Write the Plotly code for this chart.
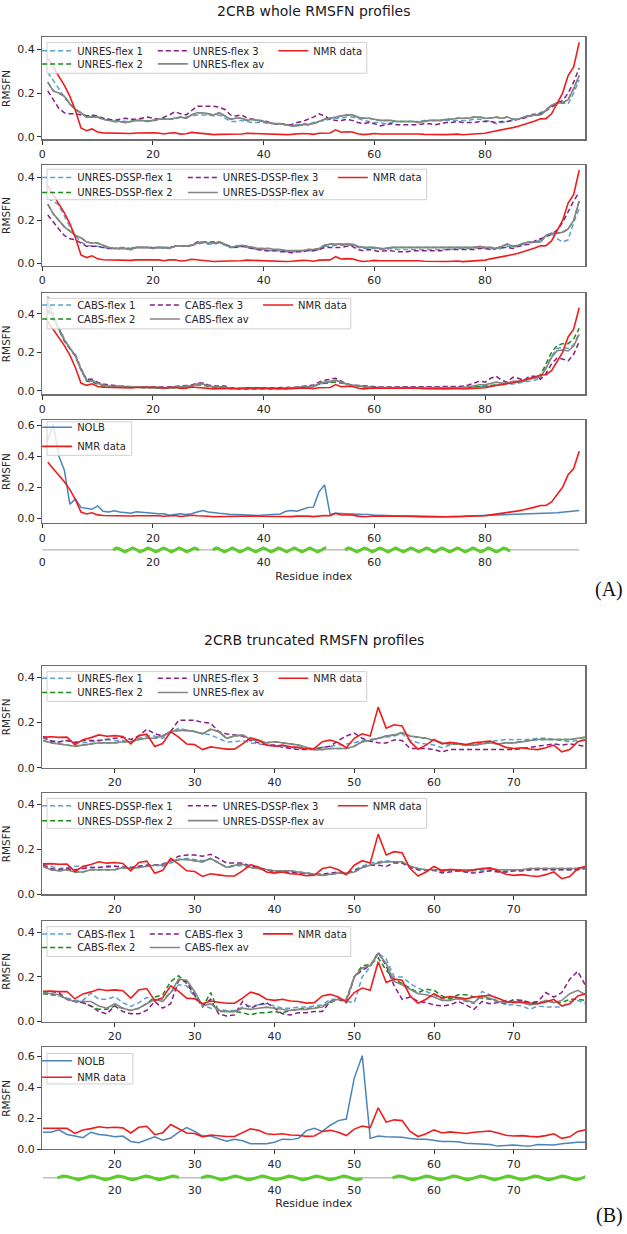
import numpy as np
import plotly.graph_objects as go

W, H = 627, 1234


def fx(p):
    return p / W


def fy(p):
    return 1 - p / H


# ---------------- DATA ----------------
residues_A = list(range(1, 98))
residues_B = list(range(11, 80))

nmr_A = [
    0.36, 0.32, 0.28, 0.235, 0.185, 0.12, 0.04, 0.028, 0.036, 0.022,
    0.018, 0.017, 0.017, 0.017, 0.013, 0.015, 0.017, 0.018, 0.017, 0.018,
    0.017, 0.013, 0.017, 0.018, 0.012, 0.014, 0.02, 0.017, 0.013, 0.013,
    0.01, 0.011, 0.011, 0.01, 0.01, 0.013, 0.016, 0.015, 0.013, 0.012,
    0.013, 0.012, 0.011, 0.01, 0.011, 0.014, 0.015, 0.014, 0.011, 0.016,
    0.018, 0.017, 0.032, 0.021, 0.023, 0.022, 0.014, 0.01, 0.012, 0.015,
    0.013, 0.014, 0.013, 0.013, 0.013, 0.014, 0.014, 0.013, 0.011, 0.01,
    0.011, 0.01, 0.01, 0.011, 0.012, 0.009, 0.01, 0.014, 0.014, 0.016,
    0.022, 0.027, 0.031, 0.034, 0.042, 0.048, 0.055, 0.062, 0.072, 0.082,
    0.083, 0.105, 0.15, 0.2, 0.28, 0.32, 0.432]

unres_flex1_A = [
    0.295, 0.26, 0.22, 0.18, 0.15, 0.125, 0.11, 0.095, 0.095, 0.09,
    0.085, 0.08, 0.075, 0.075, 0.07, 0.07, 0.075, 0.075, 0.075, 0.07,
    0.08, 0.085, 0.08, 0.085, 0.09, 0.09, 0.095, 0.1, 0.1, 0.1,
    0.095, 0.1, 0.085, 0.07, 0.07, 0.075, 0.07, 0.065, 0.065, 0.065,
    0.06, 0.06, 0.06, 0.055, 0.055, 0.055, 0.06, 0.06, 0.065, 0.07,
    0.075, 0.08, 0.085, 0.085, 0.09, 0.09, 0.085, 0.075, 0.07, 0.065,
    0.065, 0.06, 0.065, 0.07, 0.07, 0.07, 0.07, 0.07, 0.075, 0.075,
    0.075, 0.075, 0.075, 0.075, 0.075, 0.075, 0.075, 0.08, 0.08, 0.075,
    0.07, 0.06, 0.065, 0.07, 0.075, 0.08, 0.09, 0.1, 0.105, 0.11,
    0.125, 0.14, 0.15, 0.155, 0.15, 0.2, 0.26]
unres_flex2_A = [
    0.25, 0.21, 0.2, 0.185, 0.15, 0.125, 0.11, 0.09, 0.09, 0.09,
    0.08, 0.075, 0.07, 0.07, 0.065, 0.07, 0.075, 0.075, 0.07, 0.075,
    0.08, 0.08, 0.08, 0.085, 0.09, 0.085, 0.1, 0.11, 0.11, 0.105,
    0.1, 0.11, 0.095, 0.08, 0.085, 0.085, 0.075, 0.08, 0.075, 0.07,
    0.065, 0.06, 0.06, 0.055, 0.05, 0.05, 0.055, 0.055, 0.06, 0.07,
    0.08, 0.085, 0.09, 0.095, 0.1, 0.1, 0.09, 0.085, 0.085, 0.08,
    0.075, 0.075, 0.075, 0.07, 0.07, 0.07, 0.07, 0.065, 0.07, 0.075,
    0.075, 0.075, 0.08, 0.08, 0.085, 0.085, 0.085, 0.09, 0.09, 0.085,
    0.085, 0.09, 0.085, 0.09, 0.08, 0.08, 0.09, 0.095, 0.1, 0.1,
    0.12, 0.145, 0.155, 0.155, 0.17, 0.22, 0.28]
unres_flex3_A = [
    0.21, 0.17, 0.13, 0.11, 0.105, 0.105, 0.1, 0.095, 0.1, 0.095,
    0.085, 0.08, 0.075, 0.08, 0.085, 0.08, 0.08, 0.085, 0.09, 0.085,
    0.08, 0.09, 0.1, 0.115, 0.105, 0.1, 0.12, 0.14, 0.14, 0.14,
    0.14, 0.135, 0.125, 0.1, 0.095, 0.1, 0.085, 0.08, 0.075, 0.075,
    0.065, 0.06, 0.06, 0.055, 0.055, 0.065, 0.07, 0.08, 0.09, 0.105,
    0.095, 0.08, 0.075, 0.075, 0.08, 0.075, 0.065, 0.06, 0.065, 0.06,
    0.05, 0.055, 0.06, 0.055, 0.055, 0.055, 0.055, 0.055, 0.06, 0.06,
    0.055, 0.06, 0.065, 0.065, 0.07, 0.065, 0.065, 0.065, 0.07, 0.07,
    0.07, 0.065, 0.07, 0.07, 0.075, 0.08, 0.085, 0.095, 0.1, 0.105,
    0.12, 0.135, 0.155, 0.165, 0.2, 0.25, 0.315]
unres_av_A = [
    0.25, 0.21, 0.2, 0.185, 0.15, 0.125, 0.11, 0.09, 0.09, 0.09,
    0.08, 0.075, 0.07, 0.07, 0.065, 0.07, 0.075, 0.075, 0.07, 0.075,
    0.08, 0.08, 0.08, 0.085, 0.09, 0.085, 0.1, 0.11, 0.11, 0.105,
    0.1, 0.11, 0.095, 0.08, 0.085, 0.085, 0.075, 0.08, 0.075, 0.07,
    0.065, 0.06, 0.06, 0.055, 0.05, 0.05, 0.055, 0.055, 0.06, 0.07,
    0.08, 0.085, 0.09, 0.095, 0.1, 0.1, 0.09, 0.085, 0.085, 0.08,
    0.075, 0.075, 0.075, 0.07, 0.07, 0.07, 0.07, 0.065, 0.07, 0.075,
    0.075, 0.075, 0.08, 0.08, 0.085, 0.085, 0.085, 0.09, 0.09, 0.085,
    0.085, 0.09, 0.085, 0.09, 0.08, 0.08, 0.09, 0.095, 0.1, 0.1,
    0.12, 0.145, 0.155, 0.155, 0.17, 0.22, 0.28]

dssp_flex1_A = [
    0.3, 0.29, 0.27, 0.22, 0.17, 0.13, 0.1, 0.085, 0.08, 0.08,
    0.075, 0.07, 0.07, 0.075, 0.075, 0.07, 0.075, 0.075, 0.075, 0.075,
    0.075, 0.07, 0.075, 0.08, 0.08, 0.08, 0.085, 0.09, 0.095, 0.09,
    0.09, 0.095, 0.085, 0.075, 0.075, 0.08, 0.075, 0.07, 0.065, 0.065,
    0.06, 0.06, 0.06, 0.055, 0.055, 0.055, 0.06, 0.06, 0.06, 0.065,
    0.08, 0.08, 0.085, 0.085, 0.085, 0.085, 0.075, 0.07, 0.07, 0.07,
    0.065, 0.065, 0.07, 0.065, 0.065, 0.065, 0.065, 0.065, 0.065, 0.065,
    0.065, 0.065, 0.065, 0.065, 0.07, 0.07, 0.07, 0.07, 0.075, 0.07,
    0.07, 0.065, 0.07, 0.08, 0.075, 0.08, 0.09, 0.095, 0.1, 0.11,
    0.13, 0.14, 0.115, 0.1, 0.11, 0.19, 0.255]
dssp_flex2_A = [
    0.275, 0.23, 0.2, 0.17, 0.15, 0.13, 0.12, 0.1, 0.095, 0.095,
    0.085, 0.075, 0.07, 0.07, 0.07, 0.065, 0.075, 0.075, 0.075, 0.07,
    0.075, 0.075, 0.07, 0.08, 0.08, 0.08, 0.085, 0.095, 0.1, 0.095,
    0.095, 0.1, 0.09, 0.075, 0.08, 0.085, 0.08, 0.075, 0.07, 0.07,
    0.07, 0.065, 0.065, 0.06, 0.06, 0.06, 0.06, 0.065, 0.065, 0.07,
    0.085, 0.09, 0.09, 0.09, 0.09, 0.09, 0.08, 0.075, 0.075, 0.075,
    0.07, 0.07, 0.075, 0.075, 0.075, 0.075, 0.075, 0.075, 0.075, 0.075,
    0.075, 0.075, 0.075, 0.075, 0.075, 0.075, 0.075, 0.075, 0.08, 0.075,
    0.075, 0.07, 0.08, 0.09, 0.08, 0.085, 0.095, 0.1, 0.1, 0.1,
    0.13, 0.14, 0.14, 0.145, 0.16, 0.2, 0.29]
dssp_flex3_A = [
    0.225, 0.19, 0.16, 0.13, 0.115, 0.11, 0.095, 0.08, 0.08, 0.08,
    0.075, 0.07, 0.07, 0.07, 0.07, 0.07, 0.075, 0.075, 0.075, 0.075,
    0.075, 0.075, 0.075, 0.08, 0.08, 0.08, 0.085, 0.1, 0.1, 0.1,
    0.1, 0.1, 0.09, 0.08, 0.075, 0.08, 0.075, 0.07, 0.065, 0.06,
    0.06, 0.06, 0.055, 0.055, 0.05, 0.055, 0.055, 0.06, 0.06, 0.065,
    0.075, 0.075, 0.075, 0.075, 0.08, 0.08, 0.065, 0.06, 0.065, 0.06,
    0.055, 0.06, 0.06, 0.055, 0.055, 0.055, 0.06, 0.06, 0.06, 0.06,
    0.06, 0.06, 0.065, 0.065, 0.065, 0.065, 0.065, 0.065, 0.07, 0.07,
    0.065, 0.07, 0.075, 0.075, 0.07, 0.08, 0.085, 0.09, 0.105, 0.115,
    0.125, 0.135, 0.155, 0.19, 0.24, 0.29, 0.33]
dssp_av_A = [
    0.275, 0.23, 0.2, 0.17, 0.15, 0.13, 0.12, 0.1, 0.095, 0.095,
    0.085, 0.075, 0.07, 0.07, 0.07, 0.065, 0.075, 0.075, 0.075, 0.07,
    0.075, 0.075, 0.07, 0.08, 0.08, 0.08, 0.085, 0.095, 0.1, 0.095,
    0.095, 0.1, 0.09, 0.075, 0.08, 0.085, 0.08, 0.075, 0.07, 0.07,
    0.07, 0.065, 0.065, 0.06, 0.06, 0.06, 0.06, 0.065, 0.065, 0.07,
    0.085, 0.09, 0.09, 0.09, 0.09, 0.09, 0.08, 0.075, 0.075, 0.075,
    0.07, 0.07, 0.075, 0.075, 0.075, 0.075, 0.075, 0.075, 0.075, 0.075,
    0.075, 0.075, 0.075, 0.075, 0.075, 0.075, 0.075, 0.075, 0.08, 0.075,
    0.075, 0.07, 0.08, 0.09, 0.08, 0.085, 0.095, 0.1, 0.1, 0.1,
    0.13, 0.14, 0.14, 0.145, 0.16, 0.2, 0.29]

cabs_flex1_A = [
    0.49, 0.40, 0.33, 0.27, 0.22, 0.19, 0.12, 0.06, 0.055, 0.04,
    0.03, 0.025, 0.025, 0.022, 0.02, 0.02, 0.02, 0.018, 0.017, 0.016,
    0.015, 0.012, 0.015, 0.018, 0.02, 0.02, 0.025, 0.035, 0.035, 0.025,
    0.02, 0.02, 0.02, 0.012, 0.01, 0.012, 0.012, 0.012, 0.012, 0.012,
    0.012, 0.012, 0.012, 0.012, 0.015, 0.015, 0.018, 0.02, 0.02, 0.035,
    0.04, 0.045, 0.055, 0.045, 0.035, 0.03, 0.025, 0.022, 0.02, 0.018,
    0.016, 0.016, 0.016, 0.016, 0.016, 0.016, 0.018, 0.016, 0.015, 0.015,
    0.014, 0.014, 0.014, 0.015, 0.015, 0.014, 0.016, 0.02, 0.02, 0.022,
    0.025, 0.03, 0.03, 0.035, 0.035, 0.04, 0.045, 0.05, 0.055, 0.07,
    0.12, 0.18, 0.22, 0.225, 0.22, 0.24, 0.30]
cabs_flex2_A = [
    0.42, 0.37, 0.32, 0.26, 0.22, 0.18, 0.11, 0.05, 0.045, 0.035,
    0.025, 0.02, 0.02, 0.02, 0.018, 0.018, 0.018, 0.016, 0.015, 0.015,
    0.014, 0.012, 0.014, 0.016, 0.018, 0.02, 0.022, 0.03, 0.03, 0.022,
    0.018, 0.018, 0.016, 0.01, 0.008, 0.008, 0.008, 0.008, 0.008, 0.008,
    0.01, 0.01, 0.01, 0.012, 0.014, 0.016, 0.018, 0.02, 0.022, 0.035,
    0.04, 0.042, 0.045, 0.04, 0.032, 0.028, 0.024, 0.02, 0.018, 0.016,
    0.015, 0.015, 0.015, 0.015, 0.016, 0.016, 0.017, 0.016, 0.015, 0.015,
    0.015, 0.015, 0.016, 0.016, 0.016, 0.016, 0.018, 0.02, 0.022, 0.025,
    0.028, 0.03, 0.035, 0.04, 0.042, 0.045, 0.05, 0.06, 0.07, 0.08,
    0.14, 0.2, 0.235, 0.245, 0.245, 0.27, 0.325]
cabs_flex3_A = [
    0.46, 0.38, 0.32, 0.26, 0.22, 0.18, 0.11, 0.06, 0.06, 0.045,
    0.035, 0.03, 0.028, 0.025, 0.022, 0.022, 0.02, 0.02, 0.02, 0.02,
    0.02, 0.018, 0.02, 0.022, 0.025, 0.025, 0.03, 0.04, 0.04, 0.03,
    0.025, 0.025, 0.025, 0.015, 0.012, 0.012, 0.012, 0.014, 0.014, 0.015,
    0.015, 0.015, 0.015, 0.015, 0.018, 0.02, 0.022, 0.025, 0.03, 0.045,
    0.055, 0.06, 0.065, 0.05, 0.035, 0.03, 0.028, 0.025, 0.022, 0.02,
    0.02, 0.02, 0.02, 0.02, 0.02, 0.02, 0.022, 0.02, 0.02, 0.02,
    0.02, 0.02, 0.022, 0.022, 0.022, 0.025, 0.03, 0.04, 0.05, 0.045,
    0.065, 0.075, 0.055, 0.045, 0.07, 0.065, 0.055, 0.075, 0.075, 0.06,
    0.09, 0.14, 0.17, 0.165, 0.155, 0.19, 0.255]
cabs_av_A = [
    0.45, 0.38, 0.32, 0.265, 0.22, 0.18, 0.11, 0.055, 0.05, 0.04,
    0.03, 0.025, 0.024, 0.022, 0.02, 0.02, 0.02, 0.018, 0.017, 0.017,
    0.016, 0.014, 0.016, 0.019, 0.021, 0.022, 0.026, 0.035, 0.035, 0.026,
    0.021, 0.021, 0.02, 0.012, 0.01, 0.011, 0.011, 0.011, 0.011, 0.012,
    0.012, 0.012, 0.012, 0.013, 0.016, 0.017, 0.019, 0.022, 0.024, 0.038,
    0.045, 0.049, 0.055, 0.045, 0.034, 0.029, 0.026, 0.022, 0.02, 0.018,
    0.017, 0.017, 0.017, 0.017, 0.017, 0.017, 0.019, 0.017, 0.017, 0.017,
    0.016, 0.016, 0.017, 0.018, 0.018, 0.018, 0.021, 0.027, 0.031, 0.031,
    0.039, 0.045, 0.04, 0.04, 0.049, 0.05, 0.05, 0.062, 0.067, 0.07,
    0.117, 0.173, 0.208, 0.212, 0.207, 0.233, 0.293]

nolb_A = [
    0.5, 0.605, 0.4, 0.31, 0.09, 0.125, 0.07, 0.062, 0.058, 0.08,
    0.045, 0.04, 0.048, 0.04, 0.035, 0.032, 0.042, 0.038, 0.035, 0.032,
    0.03, 0.03, 0.02, 0.025, 0.03, 0.025, 0.03, 0.04, 0.05, 0.04,
    0.035, 0.032, 0.03, 0.025, 0.025, 0.022, 0.02, 0.02, 0.018, 0.02,
    0.025, 0.025, 0.028, 0.045, 0.05, 0.045, 0.06, 0.07, 0.072, 0.17,
    0.215, 0.025, 0.032, 0.03, 0.03, 0.028, 0.026, 0.025, 0.025, 0.02,
    0.02, 0.018, 0.018, 0.016, 0.014, 0.014, 0.012, 0.008, 0.008, 0.01,
    0.008, 0.008, 0.01, 0.01, 0.01, 0.012, 0.015, 0.016, 0.016, 0.018,
    0.02, 0.022, 0.024, 0.025, 0.026, 0.026, 0.028, 0.03, 0.03, 0.03,
    0.032, 0.034, 0.036, 0.04, 0.042, 0.046, 0.05]

nmr_B = [
    0.136, 0.137, 0.134, 0.135, 0.102, 0.124, 0.133, 0.145, 0.139, 0.142,
    0.138, 0.105, 0.142, 0.148, 0.094, 0.107, 0.16, 0.135, 0.105, 0.102,
    0.08, 0.092, 0.087, 0.082, 0.082, 0.105, 0.132, 0.122, 0.1, 0.095,
    0.1, 0.092, 0.09, 0.083, 0.085, 0.115, 0.122, 0.11, 0.088, 0.13,
    0.15, 0.14, 0.268, 0.175, 0.19, 0.185, 0.115, 0.082, 0.1, 0.125,
    0.105, 0.112, 0.108, 0.102, 0.11, 0.115, 0.118, 0.105, 0.09, 0.085,
    0.088, 0.083, 0.08, 0.088, 0.1, 0.07, 0.08, 0.115, 0.125]

unres_flex1_B = [
    0.13, 0.12, 0.115, 0.12, 0.115, 0.11, 0.115, 0.12, 0.125, 0.12,
    0.12, 0.115, 0.13, 0.14, 0.14, 0.13, 0.155, 0.175, 0.165, 0.16,
    0.15, 0.145, 0.13, 0.114, 0.115, 0.12, 0.11, 0.105, 0.1, 0.095,
    0.095, 0.09, 0.085, 0.085, 0.085, 0.09, 0.095, 0.1, 0.105, 0.11,
    0.12, 0.125, 0.13, 0.135, 0.14, 0.15, 0.12, 0.11, 0.105, 0.1,
    0.088, 0.1, 0.105, 0.1, 0.1, 0.11, 0.115, 0.12, 0.125, 0.124,
    0.125, 0.125, 0.13, 0.13, 0.125, 0.12, 0.115, 0.12, 0.12]
unres_flex2_B = [
    0.12, 0.11, 0.105, 0.1, 0.095, 0.1, 0.105, 0.11, 0.11, 0.11,
    0.115, 0.115, 0.125, 0.13, 0.13, 0.14, 0.16, 0.165, 0.165, 0.16,
    0.15, 0.17, 0.16, 0.13, 0.14, 0.145, 0.125, 0.12, 0.11, 0.115,
    0.11, 0.105, 0.1, 0.09, 0.08, 0.08, 0.085, 0.085, 0.085, 0.095,
    0.115, 0.12, 0.13, 0.14, 0.145, 0.155, 0.14, 0.135, 0.13, 0.12,
    0.11, 0.105, 0.105, 0.1, 0.1, 0.105, 0.11, 0.105, 0.11, 0.11,
    0.115, 0.12, 0.125, 0.125, 0.125, 0.125, 0.125, 0.13, 0.135]
unres_flex3_B = [
    0.139, 0.117, 0.114, 0.12, 0.11, 0.12, 0.12, 0.12, 0.125, 0.13,
    0.135, 0.125, 0.14, 0.17, 0.15, 0.14, 0.16, 0.21, 0.21, 0.21,
    0.2, 0.197, 0.16, 0.149, 0.145, 0.14, 0.12, 0.11, 0.1, 0.1,
    0.09, 0.085, 0.08, 0.08, 0.08, 0.09, 0.095, 0.12, 0.14, 0.153,
    0.13, 0.117, 0.11, 0.109, 0.123, 0.12, 0.085, 0.085, 0.085, 0.08,
    0.07, 0.08, 0.08, 0.08, 0.08, 0.08, 0.08, 0.08, 0.08, 0.08,
    0.085, 0.09, 0.095, 0.1, 0.105, 0.1, 0.105, 0.1, 0.095]
unres_av_B = [
    0.12, 0.11, 0.105, 0.1, 0.095, 0.1, 0.105, 0.11, 0.11, 0.11,
    0.115, 0.115, 0.125, 0.13, 0.13, 0.14, 0.16, 0.165, 0.165, 0.16,
    0.15, 0.17, 0.16, 0.13, 0.14, 0.145, 0.125, 0.12, 0.11, 0.115,
    0.11, 0.105, 0.1, 0.09, 0.08, 0.08, 0.085, 0.085, 0.085, 0.095,
    0.115, 0.12, 0.13, 0.14, 0.145, 0.155, 0.14, 0.135, 0.13, 0.12,
    0.11, 0.105, 0.105, 0.1, 0.1, 0.105, 0.11, 0.105, 0.11, 0.11,
    0.115, 0.12, 0.125, 0.125, 0.125, 0.125, 0.125, 0.13, 0.135]

dssp_flex1_B = [
    0.135, 0.125, 0.115, 0.12, 0.125, 0.125, 0.12, 0.12, 0.12, 0.125,
    0.125, 0.12, 0.125, 0.13, 0.13, 0.125, 0.14, 0.155, 0.16, 0.155,
    0.15, 0.16, 0.14, 0.12, 0.125, 0.13, 0.12, 0.115, 0.11, 0.1,
    0.1, 0.095, 0.095, 0.09, 0.09, 0.09, 0.09, 0.095, 0.09, 0.11,
    0.125, 0.14, 0.145, 0.15, 0.145, 0.14, 0.125, 0.11, 0.105, 0.105,
    0.1, 0.105, 0.105, 0.1, 0.105, 0.105, 0.11, 0.105, 0.1, 0.105,
    0.105, 0.11, 0.115, 0.115, 0.11, 0.11, 0.11, 0.11, 0.12]
dssp_flex2_B = [
    0.125, 0.11, 0.105, 0.11, 0.1, 0.1, 0.11, 0.11, 0.11, 0.11,
    0.12, 0.115, 0.12, 0.125, 0.13, 0.13, 0.15, 0.155, 0.155, 0.15,
    0.145, 0.16, 0.14, 0.12, 0.13, 0.135, 0.12, 0.115, 0.11, 0.105,
    0.105, 0.105, 0.1, 0.095, 0.09, 0.085, 0.09, 0.095, 0.095, 0.1,
    0.12, 0.13, 0.14, 0.145, 0.145, 0.145, 0.125, 0.115, 0.11, 0.11,
    0.11, 0.11, 0.11, 0.11, 0.11, 0.115, 0.115, 0.11, 0.11, 0.11,
    0.11, 0.115, 0.115, 0.115, 0.115, 0.115, 0.115, 0.115, 0.12]
dssp_flex3_B = [
    0.13, 0.115, 0.11, 0.115, 0.11, 0.115, 0.12, 0.12, 0.125, 0.125,
    0.12, 0.12, 0.125, 0.13, 0.13, 0.135, 0.15, 0.17, 0.175, 0.175,
    0.17, 0.178, 0.16, 0.14, 0.14, 0.14, 0.125, 0.12, 0.11, 0.1,
    0.1, 0.1, 0.095, 0.095, 0.09, 0.09, 0.095, 0.1, 0.095, 0.105,
    0.12, 0.13, 0.13, 0.125, 0.14, 0.14, 0.12, 0.11, 0.11, 0.11,
    0.095, 0.1, 0.105, 0.1, 0.095, 0.1, 0.105, 0.1, 0.1, 0.105,
    0.105, 0.11, 0.11, 0.11, 0.11, 0.11, 0.11, 0.11, 0.115]
dssp_av_B = [
    0.125, 0.11, 0.105, 0.11, 0.1, 0.1, 0.11, 0.11, 0.11, 0.11,
    0.12, 0.115, 0.12, 0.125, 0.13, 0.13, 0.15, 0.155, 0.155, 0.15,
    0.145, 0.16, 0.14, 0.12, 0.13, 0.135, 0.12, 0.115, 0.11, 0.105,
    0.105, 0.105, 0.1, 0.095, 0.09, 0.085, 0.09, 0.095, 0.095, 0.1,
    0.12, 0.13, 0.14, 0.145, 0.145, 0.145, 0.125, 0.115, 0.11, 0.11,
    0.11, 0.11, 0.11, 0.11, 0.11, 0.115, 0.115, 0.11, 0.11, 0.11,
    0.11, 0.115, 0.115, 0.115, 0.115, 0.115, 0.115, 0.115, 0.12]

cabs_flex1_B = [
    0.13, 0.12, 0.115, 0.105, 0.095, 0.095, 0.127, 0.1, 0.1, 0.112,
    0.085, 0.068, 0.085, 0.108, 0.09, 0.1, 0.13, 0.165, 0.16, 0.11,
    0.075, 0.06, 0.055, 0.05, 0.05, 0.065, 0.07, 0.075, 0.08, 0.07,
    0.06, 0.06, 0.065, 0.065, 0.07, 0.075, 0.1, 0.1, 0.09, 0.085,
    0.2, 0.245, 0.305, 0.28, 0.2, 0.2, 0.17, 0.15, 0.135, 0.12,
    0.1, 0.11, 0.1, 0.09, 0.08, 0.135, 0.12, 0.09, 0.075, 0.075,
    0.07, 0.055, 0.07, 0.065, 0.065, 0.065, 0.09, 0.095, 0.08]
cabs_flex2_B = [
    0.125, 0.12, 0.12, 0.1, 0.09, 0.085, 0.07, 0.055, 0.055, 0.07,
    0.06, 0.05, 0.06, 0.08, 0.11, 0.12, 0.18, 0.205, 0.17, 0.12,
    0.065, 0.13, 0.045, 0.045, 0.045, 0.04, 0.03, 0.04, 0.04, 0.045,
    0.04, 0.05, 0.055, 0.06, 0.06, 0.07, 0.085, 0.1, 0.1, 0.2,
    0.25, 0.255, 0.285, 0.23, 0.19, 0.17, 0.15, 0.13, 0.145, 0.14,
    0.115, 0.1, 0.12, 0.12, 0.11, 0.105, 0.1, 0.09, 0.08, 0.1,
    0.095, 0.085, 0.085, 0.09, 0.09, 0.085, 0.1, 0.1, 0.095]
cabs_flex3_B = [
    0.13, 0.135, 0.13, 0.1, 0.09, 0.085, 0.07, 0.045, 0.035, 0.07,
    0.045, 0.035, 0.035, 0.05, 0.09, 0.06, 0.08, 0.185, 0.18, 0.12,
    0.07, 0.1, 0.035, 0.025, 0.03, 0.09, 0.06, 0.075, 0.085, 0.06,
    0.035, 0.03, 0.04, 0.04, 0.045, 0.045, 0.09, 0.1, 0.085, 0.2,
    0.23, 0.25, 0.31, 0.25, 0.16, 0.1, 0.11, 0.09, 0.085, 0.075,
    0.07, 0.075, 0.09, 0.075, 0.055, 0.09, 0.08, 0.085, 0.095, 0.09,
    0.095, 0.085, 0.09, 0.13, 0.11, 0.13, 0.19, 0.225, 0.16]
cabs_av_B = [
    0.13, 0.125, 0.12, 0.1, 0.09, 0.09, 0.09, 0.07, 0.06, 0.08,
    0.06, 0.05, 0.06, 0.08, 0.1, 0.09, 0.13, 0.19, 0.185, 0.135,
    0.07, 0.08, 0.05, 0.045, 0.045, 0.06, 0.055, 0.06, 0.065, 0.06,
    0.055, 0.05, 0.055, 0.055, 0.06, 0.065, 0.09, 0.1, 0.095, 0.2,
    0.24, 0.25, 0.305, 0.26, 0.18, 0.165, 0.145, 0.125, 0.12, 0.11,
    0.095, 0.095, 0.105, 0.095, 0.085, 0.115, 0.105, 0.09, 0.085, 0.09,
    0.085, 0.075, 0.08, 0.095, 0.085, 0.095, 0.125, 0.14, 0.12]

nolb_B = [
    0.11, 0.11, 0.125, 0.095, 0.085, 0.075, 0.11, 0.095, 0.09, 0.08,
    0.085, 0.05, 0.042, 0.06, 0.08, 0.058, 0.072, 0.11, 0.14, 0.115,
    0.085, 0.085, 0.07, 0.052, 0.065, 0.055, 0.035, 0.035, 0.035, 0.045,
    0.065, 0.062, 0.07, 0.12, 0.135, 0.115, 0.155, 0.185, 0.195, 0.46,
    0.605, 0.07, 0.085, 0.08, 0.08, 0.078, 0.07, 0.065, 0.065, 0.055,
    0.05, 0.05, 0.048, 0.038, 0.035, 0.035, 0.03, 0.02, 0.022, 0.028,
    0.022, 0.02, 0.03, 0.03, 0.028, 0.035, 0.042, 0.045, 0.045]

# helix segments (start, end residue) and chain extent
helices_A = [(12.8, 28.3), (30.8, 51.3), (54.7, 84.5)]
chain_A = [0, 97]
helices_B = [(12.8, 28.0), (30.8, 51.0), (54.8, 79.0)]
chain_B = [11, 79]

xticks_A = [0, 20, 40, 60, 80]
xticks_B = [20, 30, 40, 50, 60, 70]

# ---------------- STYLE ----------------
C_F1 = '#5f9fd0'
C_F2 = '#1b8a1b'
C_F3 = '#851f85'
C_AV = '#858585'
C_NMR = '#ee1d1d'
C_NOLB = '#4a84b8'
C_HELIX = '#5ccb2c'
FONT = 'DejaVu Sans'
TICKFONT = dict(family=FONT, size=11, color='#262626')
FRAME = '#6e6e6e'
DASH = '5px,3px'
XDOM = [fx(39.4), fx(585.1)]
LEG_OFFSET = 42  # px between legend anchor and item text

fig = go.Figure()
layout = dict(width=W, height=H, margin=dict(l=0, r=0, t=0, b=0),
              paper_bgcolor='white', plot_bgcolor='white', showlegend=True)
shapes = []
annotations = []

legend_count = [0]


def new_legend(x_text, y_row):
    legend_count[0] += 1
    n = legend_count[0]
    key = 'legend' if n == 1 else 'legend%d' % n
    layout[key] = dict(
        x=fx(x_text - LEG_OFFSET), y=fy(y_row), xanchor='left', yanchor='middle',
        orientation='h', bgcolor='rgba(0,0,0,0)', borderwidth=0,
        font=dict(family=FONT, size=10, color='#262626'),
        tracegroupgap=0, itemclick=False, itemdoubleclick=False)
    return key


def add_panel(idx, xs, series, xrange_, xticks, ydom_px, yrange, yticks,
              leg_rows, leg_cols, frame):
    xa = 'xaxis' if idx == 1 else 'xaxis%d' % idx
    ya = 'yaxis' if idx == 1 else 'yaxis%d' % idx
    xr = 'x' if idx == 1 else 'x%d' % idx
    yr = 'y' if idx == 1 else 'y%d' % idx
    layout[xa] = dict(domain=XDOM, range=xrange_, anchor=yr, tickvals=xticks,
                      showline=True, mirror=True, linecolor=FRAME, linewidth=1.2,
                      ticks='outside', ticklen=4, tickwidth=1, tickcolor='#333',
                      tickfont=TICKFONT, showgrid=False, zeroline=False)
    layout[ya] = dict(domain=[fy(ydom_px[1]), fy(ydom_px[0])], range=yrange,
                      anchor=xr, tickvals=yticks, tickformat='.1f',
                      showline=True, mirror=True, linecolor=FRAME, linewidth=1.2,
                      ticks='outside', ticklen=4, tickwidth=1, tickcolor='#333',
                      tickfont=TICKFONT, showgrid=False, zeroline=False,
                      title=dict(text='RMSFN', font=dict(family=FONT, size=10.5,
                                                         color='#262626'),
                                 standoff=4))
    row_legends = [new_legend(leg_cols[0], y) for y in leg_rows]
    ncols_in_row = {}
    for s in series:
        ncols_in_row[s[5]] = max(ncols_in_row.get(s[5], 0), s[6] + 1)
    for (name, ys, color, dash, width, row, col) in series:
        if col + 1 < ncols_in_row[row]:
            lw = leg_cols[col + 1] - leg_cols[col] - 45
        else:
            lw = 150
        fig.add_trace(go.Scatter(
            x=xs, y=ys, mode='lines', name=name, xaxis=xr, yaxis=yr,
            line=dict(color=color, width=width, dash=dash),
            legend=row_legends[row], legendwidth=lw, hoverinfo='skip'))
    shapes.append(dict(type='rect', xref='paper', yref='paper', layer='above',
                       x0=fx(frame[0]), x1=fx(frame[1]),
                       y0=fy(frame[3]), y1=fy(frame[2]),
                       line=dict(color='#d0d0d0', width=1),
                       fillcolor='rgba(255,255,255,0.8)'))


def model_series(prefix, f1, f2, f3, av, nmr):
    return [
        (prefix + '-flex 1', f1, C_F1, DASH, 1.5, 0, 0),
        (prefix + '-flex 2', f2, C_F2, DASH, 1.5, 1, 0),
        (prefix + '-flex 3', f3, C_F3, DASH, 1.5, 0, 1),
        (prefix + '-flex av', av, C_AV, 'solid', 1.6, 1, 1),
        ('NMR data', nmr, C_NMR, 'solid', 1.6, 0, 2),
    ]


COLS_UNRES = [76.3, 192, 312.5]
COLS_DSSP = [76.3, 222, 372]
COLS_CABS = [76.3, 184, 297.2]

XR_A = [0, 98.1]
XR_B = [10.9, 78.95]

# --- Section A ---
add_panel(1, residues_A,
          model_series('UNRES', unres_flex1_A, unres_flex2_A, unres_flex3_A,
                       unres_av_A, nmr_A),
          XR_A, xticks_A, (36.7, 139.3), [-0.012, 0.4545], [0, 0.2, 0.4],
          [50, 63.3], COLS_UNRES, (44.2, 365.5, 41.7, 72.7))
add_panel(2, residues_A,
          model_series('UNRES-DSSP', dssp_flex1_A, dssp_flex2_A, dssp_flex3_A,
                       dssp_av_A, nmr_A),
          XR_A, xticks_A, (165, 266.7), [-0.011, 0.4566], [0, 0.2, 0.4],
          [177.7, 192.7], COLS_DSSP, (44.2, 425.7, 169.3, 200))
add_panel(3, residues_A,
          model_series('CABS', cabs_flex1_A, cabs_flex2_A, cabs_flex3_A,
                       cabs_av_A, nmr_A),
          XR_A, xticks_A, (294, 396), [-0.019, 0.508], [0, 0.2, 0.4],
          [306, 320], COLS_CABS, (44.2, 349.4, 299.3, 330))
add_panel(4, residues_A,
          [('NOLB', nolb_A, C_NOLB, 'solid', 1.5, 0, 0),
           ('NMR data', nmr_A, C_NMR, 'solid', 1.6, 1, 0)],
          XR_A, xticks_A, (421.7, 525.7), [-0.032, 0.6326], [0, 0.2, 0.4, 0.6],
          [429, 448.3], [76.3], (44.2, 129.3, 423.5, 457.3))

# --- Section B ---
add_panel(5, residues_B,
          model_series('UNRES', unres_flex1_B, unres_flex2_B, unres_flex3_B,
                       unres_av_B, nmr_B),
          XR_B, xticks_B, (669.3, 771.7), [0, 0.45], [0, 0.2, 0.4],
          [681.7, 696], COLS_UNRES, (44.2, 365.5, 675, 705))
add_panel(6, residues_B,
          model_series('UNRES-DSSP', dssp_flex1_B, dssp_flex2_B, dssp_flex3_B,
                       dssp_av_B, nmr_B),
          XR_B, xticks_B, (797.3, 899.3), [0, 0.45], [0, 0.2, 0.4],
          [810, 825], COLS_DSSP, (44.2, 425.7, 802.7, 832.7))
add_panel(7, residues_B,
          model_series('CABS', cabs_flex1_B, cabs_flex2_B, cabs_flex3_B,
                       cabs_av_B, nmr_B),
          XR_B, xticks_B, (926, 1027.3), [0, 0.45], [0, 0.2, 0.4],
          [939, 952.7], COLS_CABS, (44.2, 349.4, 931.7, 961.7))
add_panel(8, residues_B,
          [('NOLB', nolb_B, C_NOLB, 'solid', 1.5, 0, 0),
           ('NMR data', nmr_B, C_NMR, 'solid', 1.6, 1, 0)],
          XR_B, xticks_B, (1053.3, 1155.7), [0, 0.658], [0, 0.2, 0.4, 0.6],
          [1066.7, 1083.3], [76.3], (44.2, 130.5, 1059.3, 1090))


# --- helix strips ---
def add_helix(idx, chain, helices, xrange_, xticks, dom_px, period):
    xa, ya = 'xaxis%d' % idx, 'yaxis%d' % idx
    xr, yr = 'x%d' % idx, 'y%d' % idx
    layout[xa] = dict(domain=XDOM, range=xrange_, anchor=yr, tickvals=xticks,
                      showline=False, ticks='', showgrid=False, zeroline=False,
                      tickfont=TICKFONT,
                      title=dict(text='Residue index',
                                 font=dict(family=FONT, size=11, color='#262626'),
                                 standoff=3))
    layout[ya] = dict(domain=[fy(dom_px[1]), fy(dom_px[0])], range=[-1, 1],
                      anchor=xr, visible=False)
    fig.add_trace(go.Scatter(x=chain, y=[0, 0], mode='lines', xaxis=xr, yaxis=yr,
                             line=dict(color='#a0a0a0', width=1),
                             showlegend=False, hoverinfo='skip'))
    for (s, e) in helices:
        t = np.linspace(s, e, 300)
        fig.add_trace(go.Scatter(
            x=t, y=0.42 * np.sin(2 * np.pi * (t - s) / period), mode='lines',
            xaxis=xr, yaxis=yr, line=dict(color=C_HELIX, width=3),
            showlegend=False, hoverinfo='skip'))


add_helix(9, chain_A, helices_A, XR_A, xticks_A, (548, 557), 2.8)
add_helix(10, chain_B, helices_B, XR_B, xticks_B, (1180, 1189), 3.4)

# --- titles & panel letters ---
for txt, ypx in [('2CRB whole RMSFN profiles', 10),
                 ('2CRB truncated RMSFN profiles', 643.3)]:
    annotations.append(dict(text=txt, x=fx(312.3), y=fy(ypx), xref='paper',
                            yref='paper', showarrow=False, xanchor='center',
                            yanchor='middle',
                            font=dict(family=FONT, size=14, color='#1a1a1a')))
for txt, ypx in [('(A)', 592.7), ('(B)', 1222.5)]:
    annotations.append(dict(text=txt, x=fx(625), y=fy(ypx), xref='paper',
                            yref='paper', showarrow=False, xanchor='right',
                            yanchor='middle',
                            font=dict(family='Liberation Serif', size=20,
                                      color='#111')))

layout['shapes'] = shapes
layout['annotations'] = annotations
fig.update_layout(**layout)
fig.write_html('out.html',
               config={'displayModeBar': False, 'staticPlot': True},
               post_script="document.body.style.margin='0';"
                           "document.body.style.overflow='hidden';")
